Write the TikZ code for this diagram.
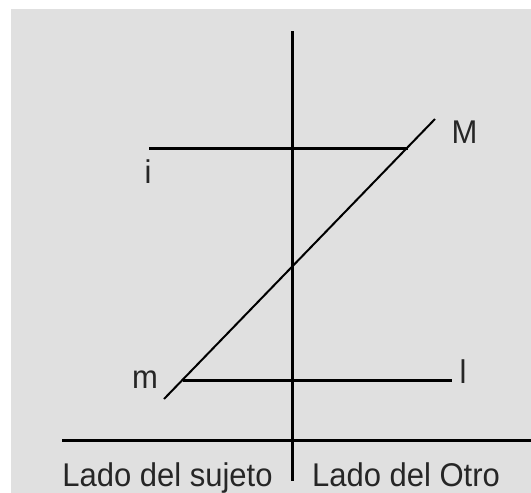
\documentclass[tikz,border=0pt]{standalone}
\usepackage{fontspec}
\setmainfont{Liberation Sans}
\begin{document}
\begin{tikzpicture}[x=1pt,y=-1pt,
  thickline/.style={line width=3pt,black},
  diagline/.style={line width=2pt,black},
  lbl/.style={inner sep=0pt,anchor=base,font=\fontsize{31}{37}\selectfont,text=black!85,yscale=1.06}]
\definecolor{bggray}{HTML}{E0E0E0}
\useasboundingbox (0,0) rectangle (531,493);
\clip (0,0) rectangle (531,493);
\fill[white] (0,0) rectangle (531,493);
\fill[bggray] (11,9) rectangle (531,493);
% coordinates
\coordinate (vtop) at (292,31);
\coordinate (vbot) at (292,481);
\coordinate (hL) at (62,440);
\coordinate (hR) at (531,440);
\coordinate (iS) at (149,148);
\coordinate (iE) at (408,148);
\coordinate (mS) at (182.5,380);
\coordinate (lE) at (452,380);
\coordinate (dA) at (164,399);
\coordinate (dB) at (435,119);
% lines
\draw[thickline] (vtop) -- (vbot);
\draw[thickline] (hL) -- (hR);
\draw[thickline] (iS) -- (iE);
\draw[thickline] (mS) -- (lE);
\draw[diagline] (dA) -- (dB);
% labels
\node[lbl] (M) at (464.5,143) {M};
\node[lbl] (i) at (148,183) {i};
\node[lbl] (m) at (145,388) {m};
\node[lbl] (l) at (463,383) {l};
\node[lbl] (suj) at (167.5,486) {Lado del sujeto};
\node[lbl] (otro) at (406,486) {Lado del Otro};
\end{tikzpicture}
\end{document}
